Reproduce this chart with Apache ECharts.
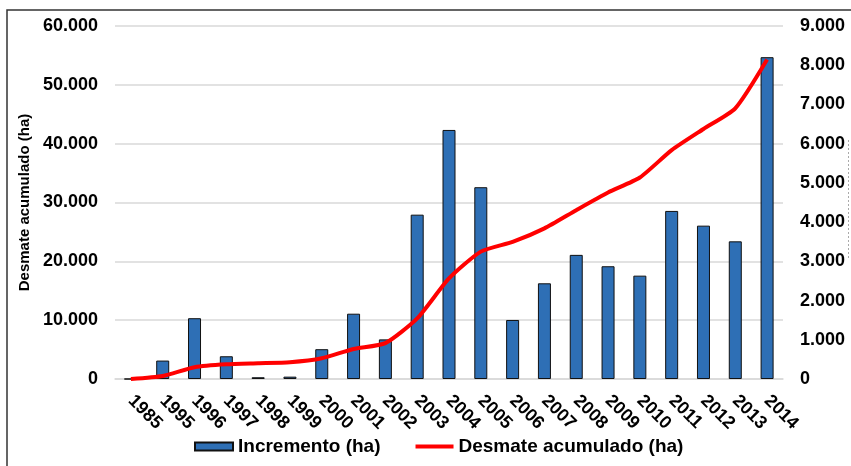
<!DOCTYPE html>
<html>
<head>
<meta charset="utf-8">
<script src="https://cdn.jsdelivr.net/npm/echarts@6/dist/echarts.min.js"></script>
<style>
  html, body { margin: 0; padding: 0; background: #fff; }
  #chart { width: 851px; height: 466px; }
</style>
</head>
<body>
<div id="chart"></div>
<script>
// years on the category axis
const years = ['1985', '1995', '1996', '1997', '1998', '1999', '2000', '2001', '2002', '2003', '2004',
  '2005', '2006', '2007', '2008', '2009', '2010', '2011', '2012', '2013', '2014'];

// yearly increment (ha), right axis
const incremento = [0, 470, 1550, 580, 45, 60, 760, 1665, 1010, 4190, 6350,
  4890, 1505, 2440, 3165, 2875, 2635, 4285, 3910, 3510, 8205];

// cumulative deforestation (ha), left axis
const desmateAcumulado = [0, 520, 2000, 2500, 2670, 2840, 3520, 5100, 6100, 10300, 17100,
  21650, 23300, 25600, 28700, 31700, 34250, 38900, 42500, 46000, 54300];

const leftTicks = { min: 0, max: 60000, interval: 10000 };
const rightTicks = { min: 0, max: 9000, interval: 1000 };

const fmt = v => v === 0 ? '0' : v.toLocaleString('de-DE');

const chart = echarts.init(document.getElementById('chart'));

const font = 'Liberation Sans, Arial, sans-serif';

const option = {
  animation: false,
  textStyle: { fontFamily: font },
  grid: { left: 115, right: 68, top: 26, bottom: 87, outerBoundsMode: 'none', containLabel: false },
  legend: {
    left: 189,
    top: 432,
    itemWidth: 38,
    itemHeight: 8,
    itemGap: 35,
    textStyle: { fontSize: 19, fontWeight: 'bold', color: '#000', fontFamily: font },
    data: [
      { name: 'Incremento (ha)', icon: 'rect' },
      { name: 'Desmate acumulado (ha)', icon: 'path://M0,0L38,0L38,4L0,4Z' }
    ]
  },
  xAxis: {
    type: 'category',
    data: years,
    axisTick: { show: false },
    axisLine: { lineStyle: { color: '#d9d9d9', width: 1.5 } },
    axisLabel: {
      interval: 0,
      rotate: -45,
      margin: 19,
      color: '#000',
      fontSize: 18,
      fontWeight: 'bold'
    }
  },
  yAxis: [
    {
      type: 'value',
      min: leftTicks.min,
      max: leftTicks.max,
      interval: leftTicks.interval,
      name: 'Desmate acumulado (ha)',
      nameLocation: 'middle',
      nameGap: 80,
      nameTextStyle: { fontSize: 15, fontWeight: 'bold', color: '#000' },
      axisLine: { show: false },
      axisTick: { show: false },
      axisLabel: { margin: 17, color: '#000', fontSize: 18, fontWeight: 'bold', formatter: fmt },
      splitLine: { lineStyle: { color: '#d9d9d9', width: 1.5 } }
    },
    {
      type: 'value',
      min: rightTicks.min,
      max: rightTicks.max,
      interval: rightTicks.interval,
      name: 'Incremento (ha)',
      nameLocation: 'middle',
      nameGap: 66,
      nameTextStyle: { fontSize: 15, fontWeight: 'bold', color: '#000' },
      axisLine: { show: false },
      axisTick: { show: false },
      axisLabel: { margin: 17, color: '#000', fontSize: 18, fontWeight: 'bold', formatter: fmt },
      splitLine: { show: false }
    }
  ],
  series: [
    {
      name: 'Incremento (ha)',
      type: 'bar',
      yAxisIndex: 1,
      barWidth: 13,
      data: incremento,
      itemStyle: { color: '#2e6fb5', borderColor: '#111', borderWidth: 1 }
    },
    {
      name: 'Desmate acumulado (ha)',
      type: 'line',
      yAxisIndex: 0,
      data: desmateAcumulado,
      symbol: 'none',
      smooth: 0.2,
      lineStyle: { color: '#ff0000', width: 4 },
      itemStyle: { color: '#ff0000' }
    }
  ],
  graphic: [
    {
      type: 'rect',
      shape: { x: 7, y: 10, width: 900, height: 500 },
      style: { fill: 'none', stroke: '#333', lineWidth: 1.5 },
      silent: true
    },
    {
      type: 'line',
      shape: { x1: 848.5, y1: 140, x2: 848.5, y2: 258 },
      style: { stroke: '#aaa', lineWidth: 1, lineDash: [2, 2] },
      silent: true
    }
  ]
};

chart.setOption(option);
</script>
</body>
</html>
